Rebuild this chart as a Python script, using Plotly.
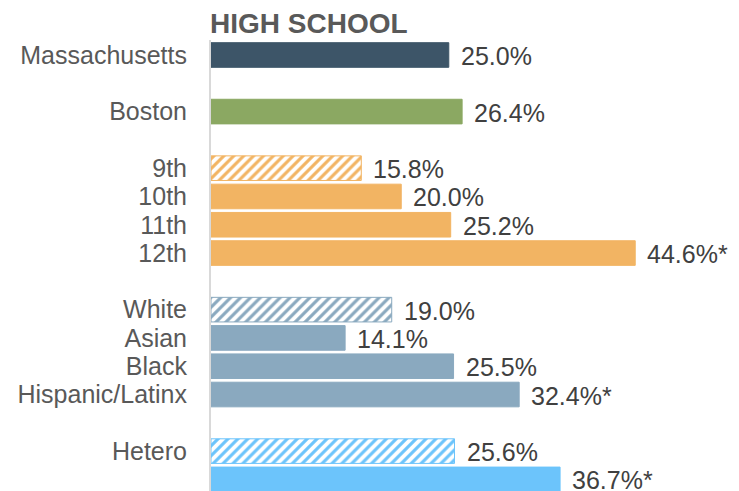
import plotly.graph_objects as go

# ---- data ----
groups = [
    ["Massachusetts"],
    ["Boston"],
    ["9th", "10th", "11th", "12th"],
    ["White", "Asian", "Black", "Hispanic/Latinx"],
    ["Hetero", "GLB"],
]
values = [25.0, 26.4, 15.8, 20.0, 25.2, 44.6, 19.0, 14.1, 25.5, 32.4, 25.6, 36.7]
labels = ["25.0%", "26.4%", "15.8%", "20.0%", "25.2%", "44.6%*",
          "19.0%", "14.1%", "25.5%", "32.4%*", "25.6%", "36.7%*"]
hatched = [False, False, True, False, False, False, True, False, False, False, True, False]
group_colors = ["#3D5568", "#8BA862", "#F2B463", "#8AA9BF", "#6CC4FB"]

# ---- build positions (one blank slot between groups) ----
cats, ypos, colors = [], [], []
pos = 0
for gi, g in enumerate(groups):
    for c in g:
        cats.append(c)
        ypos.append(pos)
        colors.append(group_colors[gi])
        pos += 1
    pos += 1

shapes = ["/" if h else "" for h in hatched]

fig = go.Figure()
fig.add_trace(go.Bar(
    x=values, y=ypos, orientation="h",
    width=0.87,
    marker=dict(
        color=colors,
        line=dict(color=colors, width=1),
        pattern=dict(shape=shapes, fgcolor=colors, bgcolor="white",
                     size=7, solidity=0.45, fillmode="replace"),
    ),
    hoverinfo="skip",
))

for v, y, t in zip(values, ypos, labels):
    fig.add_annotation(x=v, y=y, text=t, xref="x", yref="y",
                       xanchor="left", yanchor="middle", xshift=10, yshift=-1,
                       showarrow=False,
                       font=dict(family="Liberation Sans, Arial", size=25, color="#404040"))

fig.add_annotation(text="<b>HIGH SCHOOL</b>", xref="paper", yref="paper",
                   x=-0.006, y=1.036, xanchor="left", yanchor="middle", showarrow=False,
                   font=dict(family="Liberation Sans, Arial", size=28, color="#595959"))

fig.update_layout(
    width=731, height=483,
    margin=dict(l=203, r=2, t=32, b=0, autoexpand=False),
    plot_bgcolor="white", paper_bgcolor="white",
    showlegend=False,
    xaxis=dict(range=[0, 55.3], visible=False, fixedrange=True, automargin=False),
    yaxis=dict(
        range=[15.41, -0.53], automargin=False,
        tickmode="array", tickvals=ypos, ticktext=cats,
        showgrid=False, zeroline=False,
        showline=True, linecolor="#D9D9D9", linewidth=2,
        ticks="", ticklabelstandoff=17,
        tickfont=dict(family="Liberation Sans, Arial", size=25, color="#595959"),
    ),
)

fig.write_html("out.html")
